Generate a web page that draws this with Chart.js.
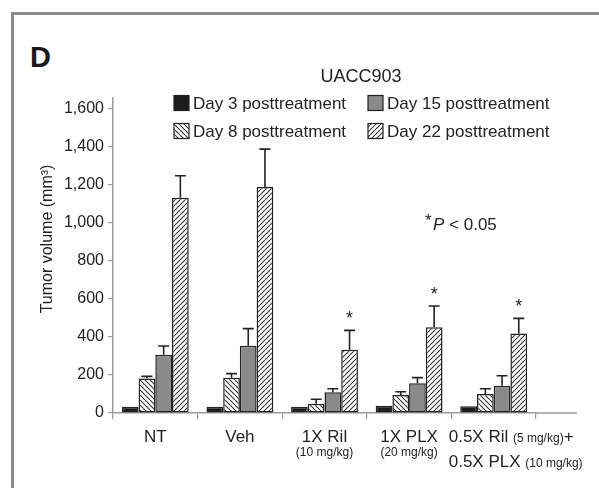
<!DOCTYPE html>
<html>
<head>
<meta charset="utf-8">
<script src="https://cdn.jsdelivr.net/npm/chart.js@4.4.1/dist/chart.umd.min.js"></script>
<style>
  html, body { margin: 0; padding: 0; background: #fff; overflow: hidden; }
  #wrap { position: relative; width: 599px; height: 488px; overflow: hidden; }
  #frame { position: absolute; left: 11px; top: 12px; width: 800px; height: 800px;
           border-left: 3px solid #8c8c8c; border-top: 3px solid #8c8c8c; }
  #panel { position: absolute; left: 30px; top: 43px; font: bold 29px "Liberation Sans", Arial, sans-serif;
           line-height: 29px; color: #1a1a1a; }
  canvas { position: absolute; left: 0; top: 0; }
</style>
</head>
<body>
<div id="wrap">
  <div id="frame"></div>
  <div id="panel">D</div>
  <canvas id="c" width="599" height="488"></canvas>
</div>
<script>
// ---------------- data ----------------
const categories = ['NT', 'Veh', '1X Ril', '1X PLX', '0.5X Ril + 0.5X PLX'];
// tick label text parts: [text, isSmall]
const tickLabels = [
  [[['NT', 0]]],
  [[['Veh', 0]]],
  [[['1X Ril', 0]], [['(10 mg/kg)', 1]]],
  [[['1X PLX', 0]], [['(20 mg/kg)', 1]]],
  [[['0.5X Ril ', 0], ['(5 mg/kg)', 1], ['+', 0]], [['0.5X PLX ', 0], ['(10 mg/kg)', 1]]]
];
const seriesNames = ['Day 3 posttreatment', 'Day 8 posttreatment', 'Day 15 posttreatment', 'Day 22 posttreatment'];
const day3  = [33, 33, 33, 38, 35];
const day8  = [181, 186, 49, 95, 100];
const day15 = [307, 354, 109, 156, 144];
const day22 = [1133, 1189, 333, 451, 419];
const err8  = [12, 21, 23, 17, 28];
const err15 = [46, 90, 19, 30, 52];
const err22 = [116, 200, 102, 112, 79];
const significant = [false, false, true, true, true];
const yTicks = [0, 200, 400, 600, 800, 1000, 1200, 1400, 1600];
const chartTitle = 'UACC903';
const yTitle = 'Tumor volume (mm\u00B3)';

// ---------------- styles ----------------
const FONT = '"Liberation Sans", Arial, Helvetica, sans-serif';
Chart.defaults.font.family = FONT;
Chart.defaults.color = '#222';
const INK = '#222';

function hatch(dir) {
  const s = 5;
  const c = document.createElement('canvas');
  c.width = s; c.height = s;
  const g = c.getContext('2d');
  g.fillStyle = '#fff'; g.fillRect(0, 0, s, s);
  g.strokeStyle = '#333'; g.lineWidth = 1.1;
  g.beginPath();
  for (const k of [-s, 0, s]) {
    if (dir === 'back') { g.moveTo(k, 0); g.lineTo(k + s, s); }
    else { g.moveTo(k, s); g.lineTo(k + s, 0); }
  }
  g.stroke();
  return g.createPattern(c, 'repeat');
}
const ctx0 = document.getElementById('c').getContext('2d');
const fills = ['#1c1c1c', hatch('back'), '#8a8a8a', hatch('fwd')];
const seriesData = [day3, day8, day15, day22];
const seriesErr = [null, err8, err15, err22];

// legend layout (column-major, 2x2)
const legendSlots = [
  {ds: 0, x: 174, y: 103}, {ds: 2, x: 368, y: 103},
  {ds: 1, x: 174, y: 131}, {ds: 3, x: 368, y: 131}
];

const annot = {
  id: 'annot',
  afterDatasetsDraw(chart) {
    const ctx = chart.ctx, ys = chart.scales.y, xs = chart.scales.x, ca = chart.chartArea;
    ctx.save();
    // x axis line continues past the last group
    ctx.strokeStyle = '#9a9a9a'; ctx.lineWidth = 1.5;
    ctx.beginPath(); ctx.moveTo(ca.right, ca.bottom); ctx.lineTo(ca.right + 41, ca.bottom); ctx.stroke();
    // error bars (upper only)
    ctx.strokeStyle = INK; ctx.lineWidth = 1.6;
    seriesErr.forEach((errs, d) => {
      if (!errs) return;
      const meta = chart.getDatasetMeta(d);
      errs.forEach((e, i) => {
        const bar = meta.data[i];
        const top = ys.getPixelForValue(seriesData[d][i] + e);
        ctx.beginPath();
        ctx.moveTo(bar.x, bar.y); ctx.lineTo(bar.x, top);
        ctx.moveTo(bar.x - 5.5, top); ctx.lineTo(bar.x + 5.5, top);
        ctx.stroke();
      });
    });
    // significance stars
    ctx.fillStyle = INK; ctx.font = '18px ' + FONT; ctx.textAlign = 'center'; ctx.textBaseline = 'alphabetic';
    const m3 = chart.getDatasetMeta(3);
    significant.forEach((s, i) => {
      if (!s) return;
      const top = ys.getPixelForValue(day22[i] + err22[i]);
      ctx.fillText('*', m3.data[i].x, top - 6);
    });
    // chart title
    ctx.font = '18px ' + FONT; ctx.textBaseline = 'middle';
    ctx.fillText(chartTitle, 361, 77);
    // legend
    ctx.textAlign = 'left'; ctx.font = '17px ' + FONT;
    legendSlots.forEach(sl => {
      ctx.fillStyle = fills[sl.ds];
      ctx.fillRect(sl.x, sl.y - 7.5, 15, 15);
      ctx.strokeStyle = INK; ctx.lineWidth = 1.2;
      ctx.strokeRect(sl.x, sl.y - 7.5, 15, 15);
      ctx.fillStyle = INK;
      ctx.fillText(seriesNames[sl.ds], sl.x + 19, sl.y + 1);
    });
    // x tick labels
    ctx.textBaseline = 'alphabetic';
    tickLabels.forEach((lines, i) => {
      const cx = xs.getPixelForValue(i);
      const multi = lines.some(l => l.length > 1);
      lines.forEach((parts, li) => {
        const hasBig = parts.some(p => !p[1]);
        const base = li === 0 ? 442 : (hasBig ? 467 : 456);
        const widths = parts.map(p => { ctx.font = (p[1] ? '12px ' : '17px ') + FONT; return ctx.measureText(p[0]).width; });
        const total = widths.reduce((a, b) => a + b, 0);
        let x = multi ? cx - 45 : cx - total / 2;
        parts.forEach((p, k) => {
          ctx.font = (p[1] ? '12px ' : '17px ') + FONT;
          ctx.fillText(p[0], x, base);
          x += widths[k];
        });
      });
    });
    // y axis title
    ctx.save();
    ctx.translate(48, 239); ctx.rotate(-Math.PI / 2);
    ctx.textAlign = 'center'; ctx.textBaseline = 'middle'; ctx.font = '16px ' + FONT;
    ctx.fillText(yTitle, 0, 0);
    ctx.restore();
    // significance note
    ctx.textAlign = 'left'; ctx.font = '17px ' + FONT;
    ctx.fillText('*', 425, 226);
    ctx.font = 'italic 17px ' + FONT;
    ctx.fillText('P', 433, 230);
    const pw = ctx.measureText('P').width;
    ctx.font = '17px ' + FONT;
    ctx.fillText(' < 0.05', 433 + pw, 230);
    ctx.restore();
  }
};

new Chart(ctx0, {
  type: 'bar',
  data: {
    labels: categories,
    datasets: seriesData.map((d, k) => ({
      label: seriesNames[k],
      data: d,
      backgroundColor: fills[k],
      borderColor: INK,
      borderWidth: 1.5,
      borderSkipped: false,
      categoryPercentage: 0.79,
      barPercentage: 1.0
    }))
  },
  options: {
    responsive: false,
    animation: false,
    devicePixelRatio: 1,
    layout: { padding: { left: 0, right: 63, top: 98, bottom: 65 } },
    plugins: { legend: { display: false }, title: { display: false }, tooltip: { enabled: false } },
    scales: {
      x: {
        type: 'category',
        offset: true,
        grid: { display: true, offset: true, drawOnChartArea: false, drawTicks: true, tickLength: 6, color: '#9a9a9a', lineWidth: 1.2 },
        border: { display: true, color: '#9a9a9a', width: 1.5 },
        ticks: { display: false },
        afterFit(s) { s.height = 10; }
      },
      y: {
        min: 0, max: 1658,
        afterBuildTicks(s) { s.ticks = yTicks.map(v => ({ value: v })); },
        grid: { display: true, drawOnChartArea: false, drawTicks: true, tickLength: 5, color: '#9a9a9a', lineWidth: 1.2 },
        border: { display: true, color: '#9a9a9a', width: 1.5 },
        ticks: { font: { size: 16 }, color: '#222', padding: 4 },
        afterFit(s) { s.width = 113; }
      }
    }
  },
  plugins: [annot]
});
</script>
</body>
</html>
